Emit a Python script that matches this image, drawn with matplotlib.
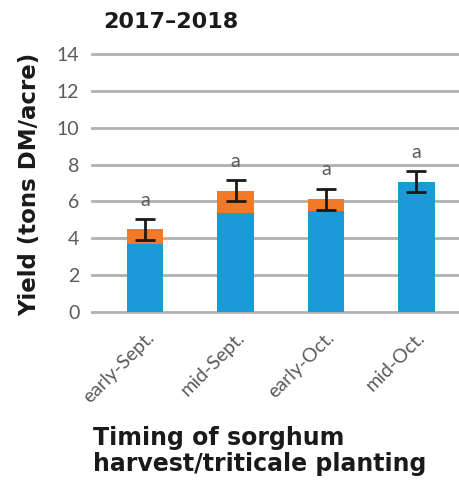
import matplotlib
matplotlib.use("Agg")
import matplotlib.pyplot as plt
from matplotlib import font_manager

# Harvest timing categories and yield components (tons DM/acre)
categories = ["early-Sept.", "mid-Sept.", "early-Oct.", "mid-Oct."]
sorghum = [3.67, 5.36, 5.48, 7.08]
triticale = [0.81, 1.22, 0.64, 0.0]
error = [0.58, 0.57, 0.58, 0.59]
letters = ["a", "a", "a", "a"]
yticks = [0, 2, 4, 6, 8, 10, 12, 14]

names = {f.name for f in font_manager.fontManager.ttflist}
light = "Lato" if "Lato" in names else "DejaVu Sans"
heavy = "DejaVu Sans"
text_grey = "#5a5a5a"

fig = plt.figure(figsize=(4.59, 4.83), dpi=100)
ax = fig.add_axes([0.2, 0.3547, 0.8, 0.5325])

x = list(range(len(categories)))
blue = "#1a9ad6"
orange = "#f07a28"
width = 0.405

ax.bar(x, sorghum, width, color=blue, zorder=3)
ax.bar(x, triticale, width, bottom=sorghum, color=orange, zorder=3)
totals = [s + t for s, t in zip(sorghum, triticale)]
ax.errorbar(x, totals, yerr=error, fmt="none", ecolor="#1a1a1a",
            elinewidth=2, capsize=7, capthick=2, zorder=4)
for xi, tot, e, lab in zip(x, totals, error, letters):
    ax.text(xi, tot + e + 0.55, lab, ha="center", va="bottom",
            fontsize=14, color=text_grey, family=light)

ax.set_xlim(-0.59, 3.47)
ax.set_ylim(0, 14)
ax.set_yticks(yticks)
ax.set_yticklabels([str(v) for v in yticks], family=light,
                   fontsize=14, color=text_grey)
ax.yaxis.grid(True, color="#b0b0b0", linewidth=2, zorder=0)
for line in ax.get_ygridlines():
    line.set_clip_on(False)
ax.set_axisbelow(True)
for s in ax.spines.values():
    s.set_visible(False)
ax.tick_params(axis="both", length=0)
ax.tick_params(axis="y", pad=9)
ax.set_xticks(x)
ax.set_xticklabels(categories, rotation=45, ha="right", rotation_mode="anchor",
                   family=light, fontsize=14, color=text_grey)
ax.tick_params(axis="x", pad=12)

fig.text(103 / 459, 1 - 22 / 483, "2017–2018", family=heavy, fontweight="bold",
         fontsize=16, color="#1a1a1a", ha="left", va="center")
fig.text(30 / 459, 1 - 184 / 483, "Yield (tons DM/acre)", family=heavy,
         fontweight="bold", fontsize=16.5, color="#1a1a1a", rotation=90,
         ha="center", va="center")
fig.text(93 / 459, 1 - 451 / 483, "Timing of sorghum\nharvest/triticale planting",
         family=heavy, fontweight="bold", fontsize=17, color="#1a1a1a",
         ha="left", va="center", linespacing=1.15)

fig.savefig("out.png", dpi=100)
